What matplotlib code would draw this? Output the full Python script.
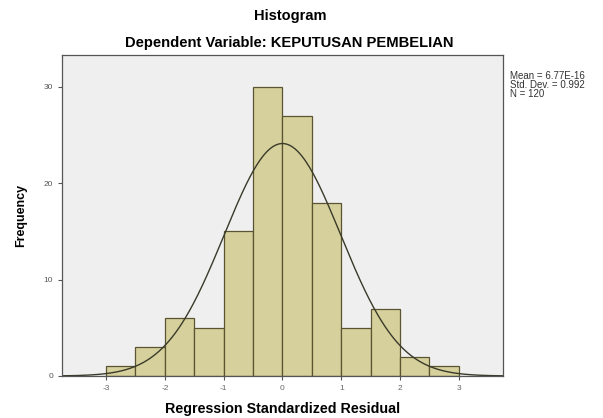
import numpy as np
import matplotlib
matplotlib.use('Agg')
import matplotlib.pyplot as plt

# histogram data (bin width 0.5)
bin_edges = [-3.0, -2.5, -2.0, -1.5, -1.0, -0.5, 0.0, 0.5, 1.0, 1.5, 2.0, 2.5, 3.0]
counts = [1, 3, 6, 5, 15, 30, 27, 18, 5, 7, 2, 1]
mean_val = 6.77e-16
std_val = 0.992
n_val = 120

plt.rcParams['font.family'] = ['Liberation Sans', 'DejaVu Sans']
plt.rcParams['axes.unicode_minus'] = False

fig = plt.figure(figsize=(6.03, 4.18), dpi=100)
ax = fig.add_axes([0.1028, 0.1005, 0.7312, 0.7675])
ax.set_facecolor('#efefef')

lefts = bin_edges[:-1]
widths = np.diff(bin_edges)
ax.bar(lefts, counts, width=widths, align='edge', color='#d6d09c',
       edgecolor='#5a5530', linewidth=0.9)

# fitted normal curve
xs = np.linspace(-3.75, 3.75, 400)
bw = widths[0]
ys = n_val * bw / (std_val * np.sqrt(2 * np.pi)) * np.exp(-0.5 * ((xs - mean_val) / std_val) ** 2)
ax.plot(xs, ys, color='#3a3a2a', linewidth=1.0)

ax.set_xlim(-3.75, 3.75)
ax.set_ylim(0, 33.3)
ax.set_xticks([-3, -2, -1, 0, 1, 2, 3])
ax.set_yticks([0, 10, 20, 30])
ax.tick_params(labelsize=6, colors='#555555', length=3, width=0.8, direction='out')
ax.tick_params(axis='x', labelcolor='#666666')
for s in ax.spines.values():
    s.set_color('#555555')
    s.set_linewidth(0.9)

ax.set_xlabel('Regression Standardized Residual', fontsize=10.3, fontweight='bold', labelpad=7)
ax.set_ylabel('Frequency', fontsize=9, fontweight='bold', labelpad=12)

fig.text(0.482, 0.962, 'Histogram', ha='center', va='center', fontsize=10.5, fontweight='bold')
fig.text(0.48, 0.897, 'Dependent Variable: KEPUTUSAN PEMBELIAN', ha='center', va='center',
         fontsize=10.6, fontweight='bold')

fig.text(0.845, 0.83, 'Mean = 6.77E-16\nStd. Dev. = 0.992\nN = 120', ha='left', va='top',
         fontsize=7, linespacing=0.85, color='#333333')

plt.savefig('out.png', dpi=100)
